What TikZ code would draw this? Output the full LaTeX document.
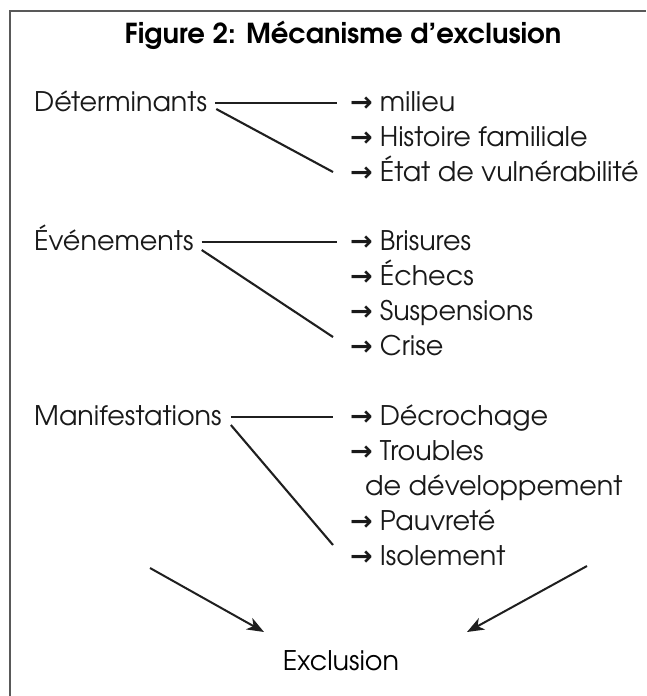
\documentclass[tikz,border=0pt]{standalone}
\usepackage{fontspec}
\setmainfont{texgyreadventor}[Extension=.otf,UprightFont=*-regular,BoldFont=*-bold,ItalicFont=*-italic,BoldItalicFont=*-bolditalic]
\newfontfamily\symf{DejaVu Sans}
\usetikzlibrary{arrows.meta}
\newcommand\ar{{\symf\bfseries\fontsize{27}{27}\selectfont →}\hspace{7pt}}
\begin{document}
\begin{tikzpicture}[x=1pt,y=-1pt,
  txt/.style={inner sep=0pt,anchor=base west,font=\fontsize{27}{30}\selectfont,text=black!90},
  conn/.style={line width=2.1pt,draw=black!88},
  bigarrow/.style={line width=2pt,draw=black!88,-{Stealth[length=17pt,width=13pt,inset=5pt]}},
  frameline/.style={line width=2.2pt,draw=black!65}]
\useasboundingbox (0,0) rectangle (646,696);
\draw[frameline] (10,696) -- (10,11) -- (646,11);
\node[inner sep=0pt,anchor=base,font=\bfseries\fontsize{27.5}{32}\selectfont] (title) at (343,43) {Figure 2: Mécanisme d'exclusion};
% Determinants
\node[txt] (det) at (34,111) {Déterminants};
\node[txt] (d1) at (350,111) {\ar milieu};
\node[txt] (d2) at (350,146) {\ar Histoire familiale};
\node[txt] (d3) at (350,181) {\ar État de vulnérabilité};
\coordinate (detH) at (337,103);
\coordinate (detD) at (333,172);
\path (det.base east) ++(8,-8) coordinate (detS);
\draw[conn] (detS) -- (detS -| detH);
\draw[conn] ([xshift=9pt,yshift=2pt]det.base east) -- (detD);
% Evenements
\node[txt] (ev) at (34,250) {Événements};
\node[txt] (e1) at (350,250) {\ar Brisures};
\node[txt] (e2) at (350,285) {\ar Échecs};
\node[txt] (e3) at (350,320) {\ar Suspensions};
\node[txt] (e4) at (350,355) {\ar Crise};
\coordinate (evH) at (337,242);
\coordinate (evD) at (333,337);
\path (ev.base east) ++(8,-8) coordinate (evS);
\draw[conn] (evS) -- (evS -| evH);
\draw[conn] ([xshift=8pt,yshift=0pt]ev.base east) -- (evD);
% Manifestations
\node[txt] (man) at (34,425) {Manifestations};
\node[txt] (m1) at (350,425) {\ar Décrochage};
\node[txt] (m2) at (350,460) {\ar Troubles};
\node[txt] (m2b) at (365,495) {de développement};
\node[txt] (m3) at (350,530) {\ar Pauvreté};
\node[txt] (m4) at (350,565) {\ar Isolement};
\coordinate (manH) at (333,417);
\coordinate (manD) at (333,545);
\path (man.base east) ++(9,-8) coordinate (manS);
\draw[conn] (manS) -- (manS -| manH);
\draw[conn] ([xshift=9pt,yshift=0pt]man.base east) -- (manD);
% Exclusion
\node[inner sep=0pt,anchor=base,font=\fontsize{27}{30}\selectfont] (excl) at (341,670) {Exclusion};
\coordinate (la) at (150,568);
\coordinate (lb) at (264,632);
\coordinate (ra) at (587,566);
\coordinate (rb) at (467,632);
\draw[bigarrow] (la) -- (lb);
\draw[bigarrow] (ra) -- (rb);
\end{tikzpicture}
\end{document}
